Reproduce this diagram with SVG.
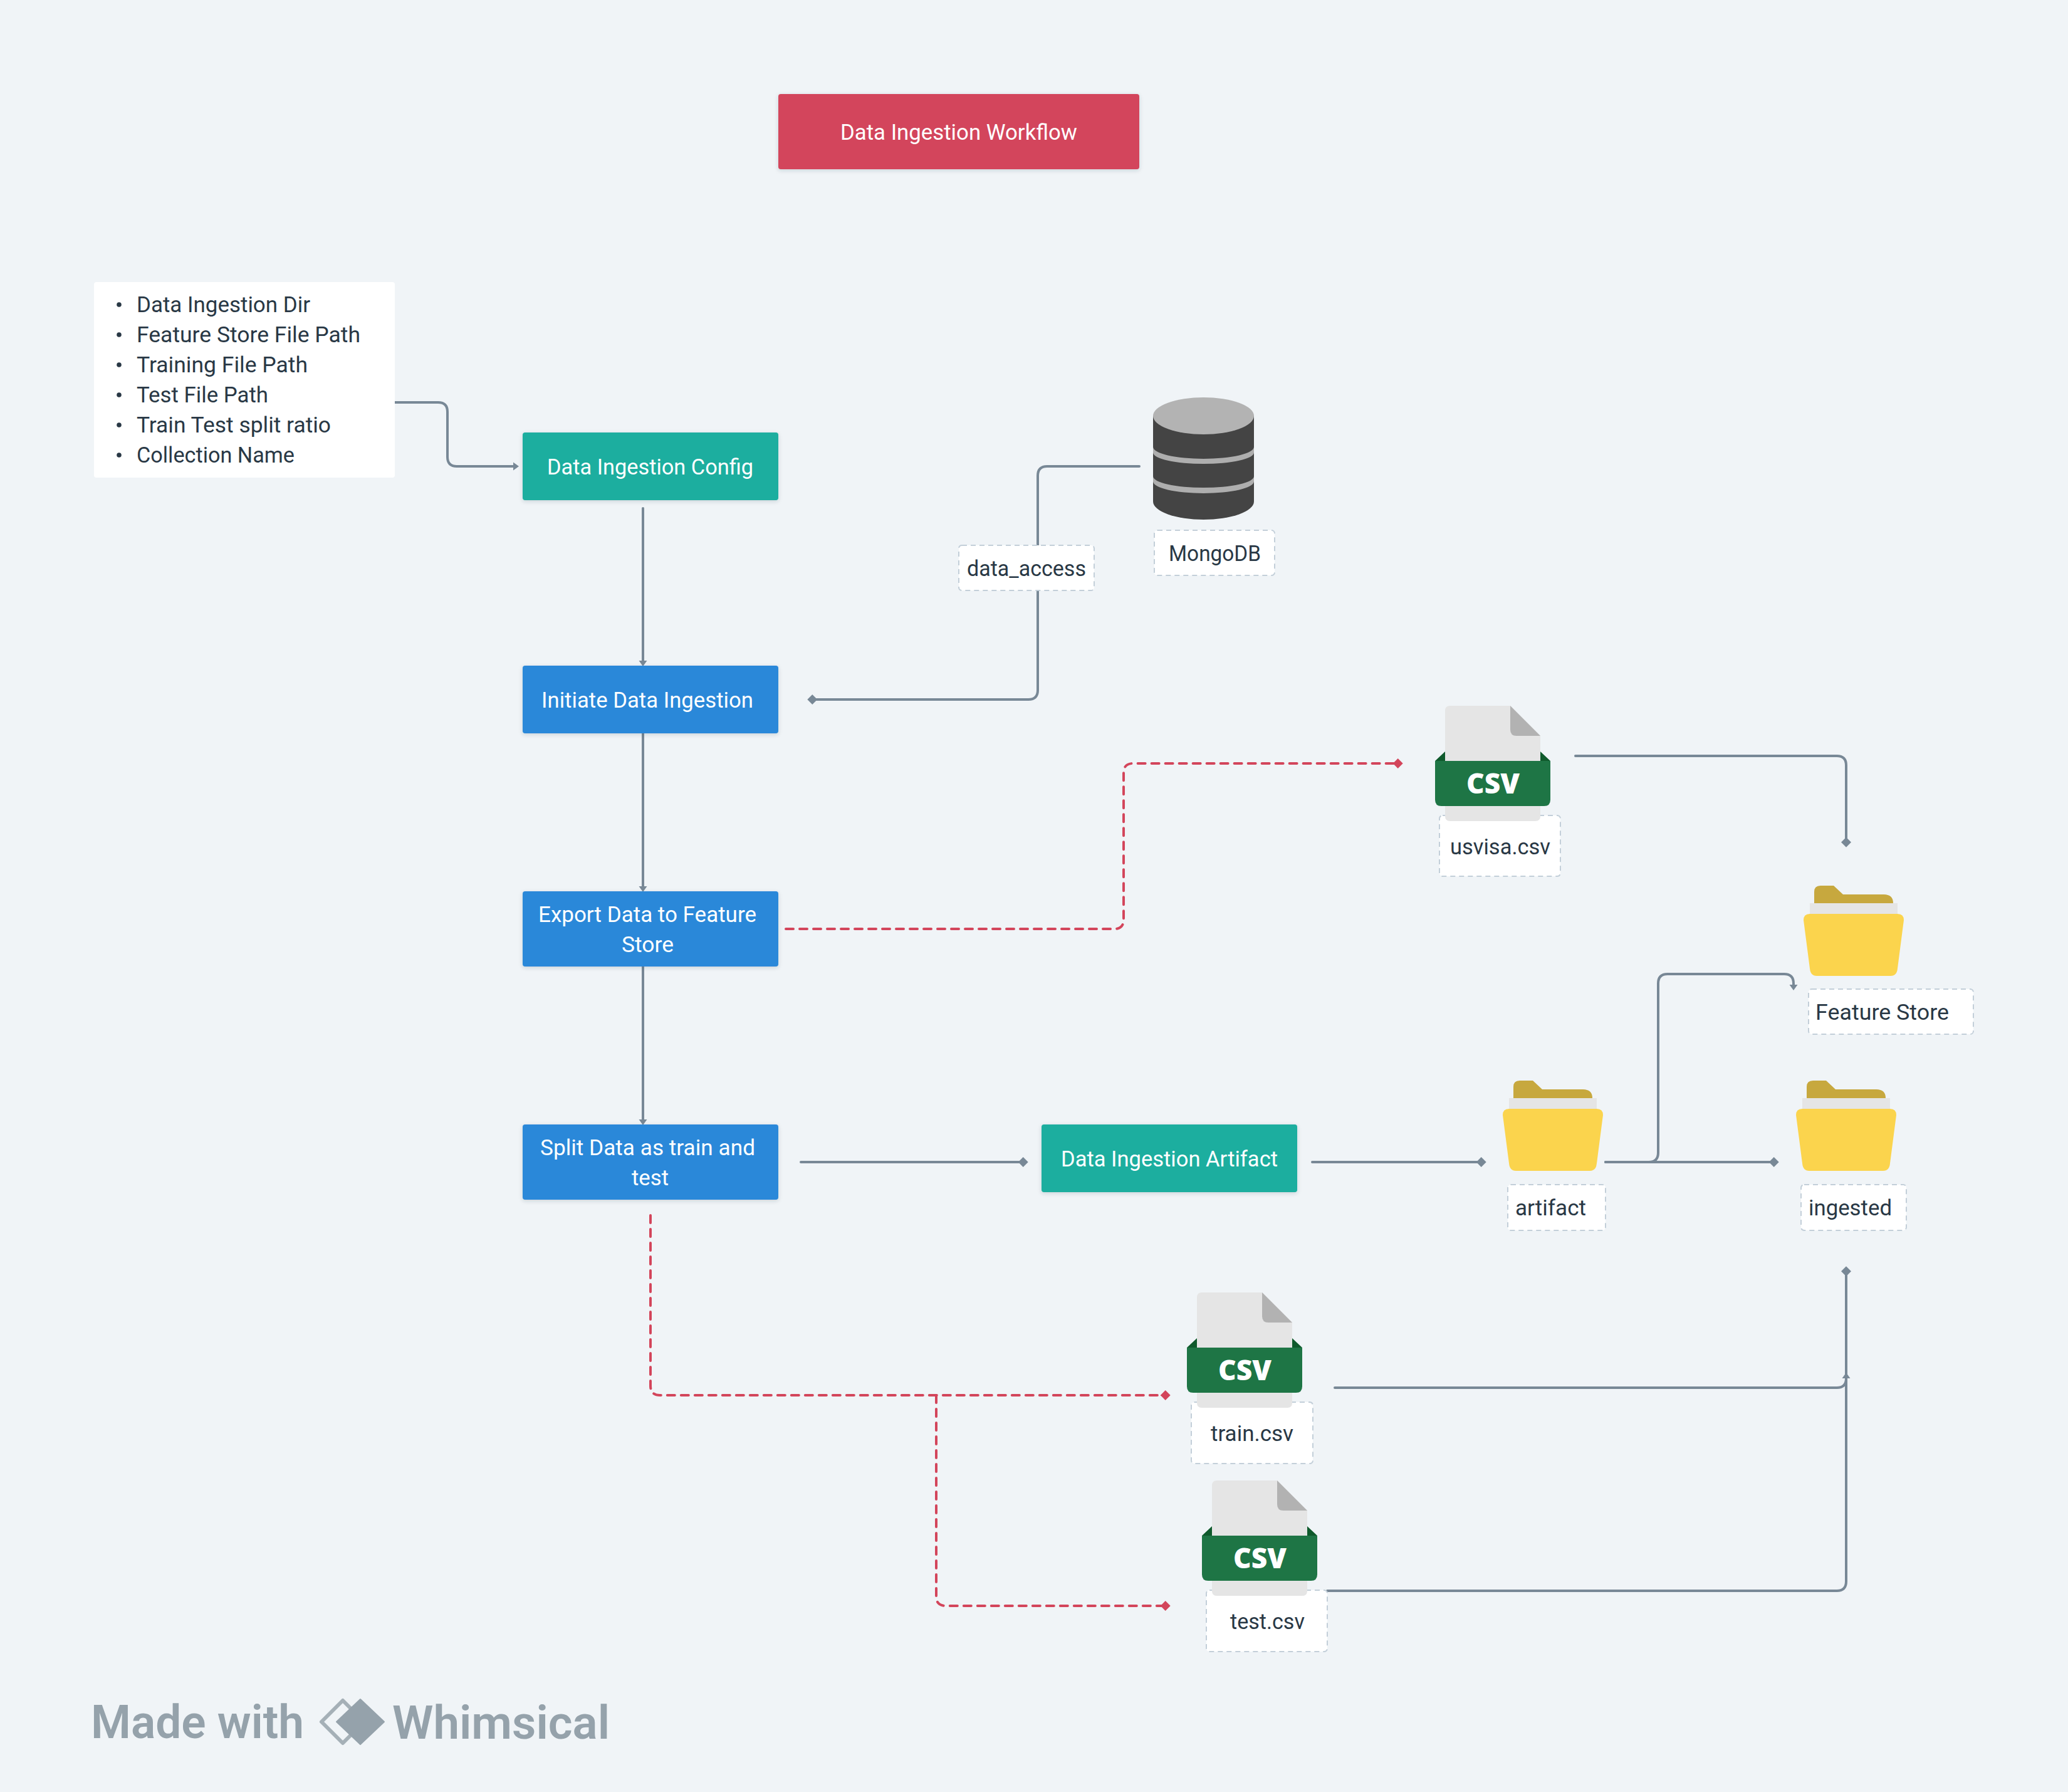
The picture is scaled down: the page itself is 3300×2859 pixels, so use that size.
<svg xmlns="http://www.w3.org/2000/svg" xmlns:xlink="http://www.w3.org/1999/xlink" width="3300" height="2859" viewBox="0 0 3300 2859">
<style>
text{font-family:Roboto,"Liberation Sans",sans-serif;font-size:35px}
.w{fill:#fff}.d{fill:#293845}
.box{filter:url(#sh)}
.lab{fill:#fff;stroke:#c3cfd9;stroke-width:2;stroke-dasharray:8 6}
.g,.r{fill:none;stroke-width:4;stroke-linecap:round}
.g{stroke:#788896}
.r{stroke:#d3455b;stroke-dasharray:12 10}
.csv{font-family:"Open Sans","Noto Sans",sans-serif;font-size:44px;font-weight:800;fill:#fff}
.wm{font-size:74px;font-weight:600;fill:#95a2ab}
</style>
<defs>
<filter id="sh" x="-5%" y="-10%" width="110%" height="125%"><feDropShadow dx="0" dy="2" stdDeviation="3" flood-color="#293845" flood-opacity=".18"/></filter>
<marker id="dg" markerUnits="userSpaceOnUse" markerWidth="16" markerHeight="16" viewBox="0 0 14 14" refX="9" refY="7" orient="auto"><path d="M0 7L7 0L14 7L7 14Z" fill="#788896"/></marker>
<marker id="dr" markerUnits="userSpaceOnUse" markerWidth="16" markerHeight="16" viewBox="0 0 14 14" refX="9" refY="7" orient="auto"><path d="M0 7L7 0L14 7L7 14Z" fill="#d3455b"/></marker>
<marker id="tg" markerUnits="userSpaceOnUse" markerWidth="10" markerHeight="14" viewBox="0 0 9 14" refX="4" refY="7" orient="auto"><path d="M0 0.5L9 7L0 13.5Z" fill="#788896"/></marker>
<g id="folder">
<path d="M17 28V10Q17 0 27 0H48L63 14H128Q143 14 143 28Z" fill="#c7a83e"/>
<rect x="10" y="28" width="140" height="20" fill="#e5e5e5"/>
<path d="M10 45H150Q160 45 160 55L150 132Q149 144 139 144H21Q11 144 10 132L0 55Q0 45 10 45Z" fill="#fbd44d"/>
</g>
<g id="csvicon">
<path d="M0 88L16 73V88ZM184 88L168 73V88Z" fill="#0f5a2c"/>
<path d="M24 0H120L168 48V176Q168 184 160 184H24Q16 184 16 176V8Q16 0 24 0Z" fill="#e5e5e5"/>
<path d="M120 0L168 48H130Q120 48 120 38Z" fill="#b2b2b2"/>
<path d="M0 88H184V150Q184 160 174 160H10Q0 160 0 150Z" fill="#1e7545"/>
</g>
</defs>
<rect width="3300" height="2859" fill="#f0f4f7"/>

<g id="connectors">
<path class="g" marker-end="url(#tg)" d="M630 642H699Q714 642 714 657V729Q714 744 729 744H823"/>
<path class="g" marker-end="url(#tg)" d="M1026 811V1058"/>
<path class="g" marker-end="url(#tg)" d="M1026 1170V1418"/>
<path class="g" marker-end="url(#tg)" d="M1026 1542V1790"/>
<path class="g" marker-end="url(#dg)" d="M1818 744H1671Q1656 744 1656 759V1101Q1656 1116 1641 1116H1294"/>
<path class="r" marker-end="url(#dr)" d="M1254 1482H1778Q1793 1482 1793 1467V1233Q1793 1218 1808 1218H2233"/>
<path class="g" marker-end="url(#dg)" d="M1278 1854H1635"/>
<path class="g" marker-end="url(#dg)" d="M2094 1854H2366"/>
<path class="g" marker-end="url(#dg)" d="M2562 1854H2833"/>
<path class="g" marker-end="url(#tg)" d="M2562 1854H2631Q2646 1854 2646 1839V1569Q2646 1554 2661 1554H2847Q2862 1554 2862 1569V1575"/>
<path class="g" marker-end="url(#dg)" d="M2514 1206H2931Q2946 1206 2946 1221V1346"/>
<path class="r" marker-end="url(#dr)" d="M1038 1939V2211Q1038 2226 1053 2226H1862"/>
<path class="r" marker-end="url(#dr)" d="M1494 2226V2547Q1494 2562 1509 2562H1862"/>
<path class="g" marker-end="url(#tg)" d="M2130 2214H2931Q2946 2214 2946 2199V2195"/>
<path class="g" marker-end="url(#dg)" d="M2118 2538H2931Q2946 2538 2946 2523V2026"/>
</g>

<g id="title">
<rect class="box" x="1242" y="150" width="576" height="120" rx="4" fill="#d3455b"/>
<text class="w" x="1341" y="223" textLength="378" lengthAdjust="spacingAndGlyphs">Data Ingestion Workflow</text>
</g>

<g id="config-list">
<rect x="150" y="450" width="480" height="312" rx="4" fill="#fff"/>
<g fill="#293845">
<circle cx="190" cy="486" r="3.8"/><circle cx="190" cy="534" r="3.8"/><circle cx="190" cy="582" r="3.8"/><circle cx="190" cy="630" r="3.8"/><circle cx="190" cy="678" r="3.8"/><circle cx="190" cy="726" r="3.8"/>
</g>
<text class="d" x="218" y="498" textLength="277" lengthAdjust="spacingAndGlyphs">Data Ingestion Dir</text>
<text class="d" x="218" y="546" textLength="357" lengthAdjust="spacingAndGlyphs">Feature Store File Path</text>
<text class="d" x="218" y="594" textLength="273" lengthAdjust="spacingAndGlyphs">Training File Path</text>
<text class="d" x="218" y="642" textLength="210" lengthAdjust="spacingAndGlyphs">Test File Path</text>
<text class="d" x="218" y="690" textLength="310" lengthAdjust="spacingAndGlyphs">Train Test split ratio</text>
<text class="d" x="218" y="738" textLength="252" lengthAdjust="spacingAndGlyphs">Collection Name</text>
</g>

<g id="data-ingestion-config">
<rect class="box" x="834" y="690" width="408" height="108" rx="4" fill="#1aae9f"/>
<text class="w" x="873" y="757" textLength="329" lengthAdjust="spacingAndGlyphs">Data Ingestion Config</text>
</g>
<g id="initiate-data-ingestion">
<rect class="box" x="834" y="1062" width="408" height="108" rx="4" fill="#2c88d9"/>
<text class="w" x="864" y="1129" textLength="338" lengthAdjust="spacingAndGlyphs">Initiate Data Ingestion</text>
</g>
<g id="export-data">
<rect class="box" x="834" y="1422" width="408" height="120" rx="4" fill="#2c88d9"/>
<text class="w" x="859" y="1471" textLength="348" lengthAdjust="spacingAndGlyphs">Export Data to Feature</text>
<text class="w" x="992" y="1519" textLength="83" lengthAdjust="spacingAndGlyphs">Store</text>
</g>
<g id="split-data">
<rect class="box" x="834" y="1794" width="408" height="120" rx="4" fill="#2c88d9"/>
<text class="w" x="862" y="1843" textLength="343" lengthAdjust="spacingAndGlyphs">Split Data as train and</text>
<text class="w" x="1008" y="1891" textLength="59" lengthAdjust="spacingAndGlyphs">test</text>
</g>
<g id="data-ingestion-artifact">
<rect class="box" x="1662" y="1794" width="408" height="108" rx="4" fill="#1aae9f"/>
<text class="w" x="1693" y="1861" textLength="346" lengthAdjust="spacingAndGlyphs">Data Ingestion Artifact</text>
</g>

<g id="data-access">
<rect class="lab" x="1530" y="870" width="216" height="72" rx="5"/>
<text class="d" x="1543" y="919" textLength="190" lengthAdjust="spacingAndGlyphs">data_access</text>
</g>

<g id="mongodb">
<path d="M1840 663V800A80.5 29 0 0 0 2001 800V663Z" fill="#444"/>
<ellipse cx="1920.5" cy="663.5" rx="80.5" ry="29.5" fill="#b3b3b3"/>
<path d="M1840 713A80.5 19 0 0 0 2001 713V722A80.5 18 0 0 1 1840 722ZM1840 760A80.5 18 0 0 0 2001 760V768A80.5 19 0 0 1 1840 768Z" fill="#aeaeae"/>
<rect class="lab" x="1842" y="846" width="192" height="72" rx="5"/>
<text class="d" x="1865" y="895" textLength="147" lengthAdjust="spacingAndGlyphs">MongoDB</text>
</g>

<g id="usvisa-csv">
<rect class="lab" x="2297" y="1301" width="193" height="97" rx="5"/>
<use href="#csvicon" xlink:href="#csvicon" transform="translate(2290 1126)"/>
<text class="csv" x="2340" y="1266" textLength="85" lengthAdjust="spacingAndGlyphs">CSV</text>
<text class="d" x="2314" y="1363" textLength="160" lengthAdjust="spacingAndGlyphs">usvisa.csv</text>
</g>

<g id="train-csv">
<rect class="lab" x="1901" y="2237" width="194" height="98" rx="5"/>
<use href="#csvicon" xlink:href="#csvicon" transform="translate(1894 2062)"/>
<text class="csv" x="1944" y="2202" textLength="85" lengthAdjust="spacingAndGlyphs">CSV</text>
<text class="d" x="1932" y="2299" textLength="132" lengthAdjust="spacingAndGlyphs">train.csv</text>
</g>

<g id="test-csv">
<rect class="lab" x="1925" y="2537" width="193" height="98" rx="5"/>
<use href="#csvicon" xlink:href="#csvicon" transform="translate(1918 2362)"/>
<text class="csv" x="1968" y="2502" textLength="85" lengthAdjust="spacingAndGlyphs">CSV</text>
<text class="d" x="1963" y="2599" textLength="119" lengthAdjust="spacingAndGlyphs">test.csv</text>
</g>

<g id="feature-store">
<use href="#folder" xlink:href="#folder" transform="translate(2878 1413)"/>
<rect class="lab" x="2886" y="1578" width="263" height="72" rx="5"/>
<text class="d" x="2897" y="1627" textLength="213" lengthAdjust="spacingAndGlyphs">Feature Store</text>
</g>

<g id="artifact">
<use href="#folder" xlink:href="#folder" transform="translate(2398 1724)"/>
<rect class="lab" x="2406" y="1890" width="156" height="73" rx="5"/>
<text class="d" x="2418" y="1939" textLength="113" lengthAdjust="spacingAndGlyphs">artifact</text>
</g>

<g id="ingested">
<use href="#folder" xlink:href="#folder" transform="translate(2866 1724)"/>
<rect class="lab" x="2874" y="1890" width="168" height="73" rx="5"/>
<text class="d" x="2886" y="1939" textLength="133" lengthAdjust="spacingAndGlyphs">ingested</text>
</g>

<g id="watermark">
<text class="wm" x="145" y="2773" textLength="340" lengthAdjust="spacingAndGlyphs">Made with</text>
<path d="M547 2713L513 2747L547 2781L581 2747Z" fill="none" stroke="#a5b0b7" stroke-width="6" stroke-linejoin="round"/>
<path d="M575 2711L613 2747L575 2783L537 2747Z" fill="#95a2ab" stroke="#95a2ab" stroke-width="2" stroke-linejoin="round"/>
<text class="wm" x="626" y="2774" textLength="347" lengthAdjust="spacingAndGlyphs">Whimsical</text>
</g>
</svg>
